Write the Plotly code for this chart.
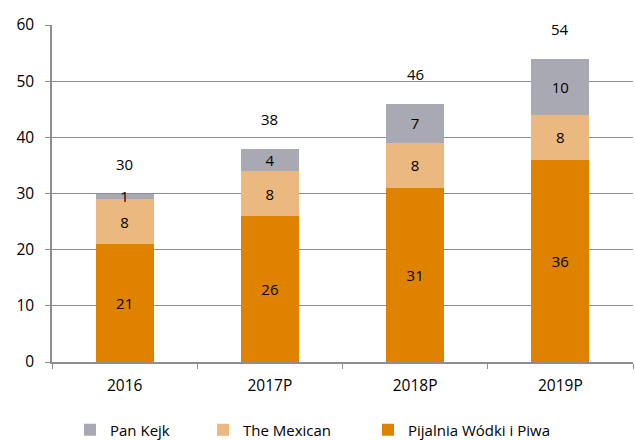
import plotly.graph_objects as go

categories = ["2016", "2017P", "2018P", "2019P"]
pijalnia = [21, 26, 31, 36]
mexican = [8, 8, 8, 8]
pan_kejk = [1, 4, 7, 10]
totals = [30, 38, 46, 54]
y_ticks = [0, 10, 20, 30, 40, 50, 60]

FONT = "Open Sans"
FS = 15
TFS = 15.5
fig = go.Figure()
series = [
    ("Pijalnia Wódki i Piwa", pijalnia, "#DF8200", "legend3"),
    ("The Mexican", mexican, "#EBB97F", "legend2"),
    ("Pan Kejk", pan_kejk, "#A9A9B3", "legend"),
]
for name, vals, col, lg in series:
    fig.add_trace(go.Bar(
        x=categories, y=vals, name=name, marker=dict(color=col, line=dict(width=0)),
        text=vals, texttemplate="%{text}", textposition="inside",
        insidetextanchor="middle", textangle=0, constraintext="none",
        textfont=dict(family=FONT, size=FS, color="#000000"), legend=lg,
    ))

# category index positions for annotations (numeric-looking category names)
for i, t in enumerate(totals):
    fig.add_annotation(x=i, y=t, text=str(t), showarrow=False, yshift=30,
                       font=dict(family=FONT, size=FS, color="#000000"))

leg_common = dict(orientation="h", yanchor="middle", yref="container", y=10 / 440,
                  xanchor="left", xref="container",
                  font=dict(family=FONT, size=FS), itemwidth=30,
                  bgcolor="rgba(0,0,0,0)")
fig.update_layout(
    width=635, height=440, barmode="stack", bargap=0.6,
    plot_bgcolor="white", paper_bgcolor="white",
    margin=dict(l=52, r=2, t=25, b=78, autoexpand=False),
    font=dict(family=FONT, size=FS, color="#000000"),
    legend=dict(leg_common, x=70 / 635),
    legend2=dict(leg_common, x=203 / 635),
    legend3=dict(leg_common, x=368 / 635),
    showlegend=True,
)
fig.update_xaxes(type="category", range=[-0.5, len(categories) - 0.5], automargin=False,
                 showline=True, linecolor="#8E8E8E", linewidth=1.5,
                 ticks="outside", tickson="boundaries", ticklen=5, tickcolor="#8E8E8E",
                 ticklabelstandoff=9, tickfont=dict(family=FONT, size=TFS))
fig.update_yaxes(range=[0, 60], tickvals=y_ticks, showgrid=True, gridcolor="#8E8E8E",
                 gridwidth=1.3, showline=True, linecolor="#8E8E8E", linewidth=1.5,
                 ticks="outside", ticklen=5, tickcolor="#8E8E8E", zeroline=False,
                 automargin=False, ticklabelstandoff=8,
                 tickfont=dict(family=FONT, size=TFS))
fig.write_html("out.html", config={"displayModeBar": False},
               post_script="document.body.style.margin='0';document.body.style.padding='0';")
